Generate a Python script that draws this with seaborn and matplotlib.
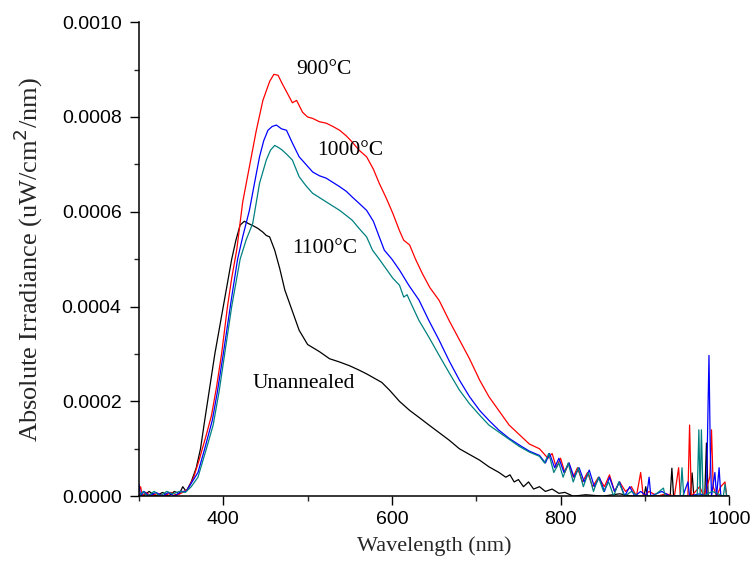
import pandas as pd
import numpy as np
import matplotlib
matplotlib.use('Agg')
import matplotlib.pyplot as plt
from matplotlib.ticker import MultipleLocator, FormatStrFormatter
import seaborn as sns


# Spectra (wavelength in nm, irradiance in uW/cm^2/nm)
wl_900 = [300, 302, 304, 308, 315, 322, 330, 338, 345, 352, 358, 365, 372, 380, 386, 392, 398, 405,
          410, 416, 423, 431, 439, 447, 455, 460, 465, 470, 476, 482, 487, 494, 500, 506, 514, 522,
          530, 538, 546, 553, 561, 570, 578, 585, 593, 601, 609, 614, 621, 628, 636, 645, 656, 668,
          680, 692, 704, 715, 727, 739, 751, 763, 775, 785, 790, 795, 800, 805, 810, 815, 820, 826,
          832, 838, 845, 852, 858, 864, 870, 877, 884, 890, 895, 898, 905, 915, 925, 935, 940, 942,
          951, 953, 955, 965, 970, 977, 979, 981, 985, 990, 995, 997, 1000]
irr_900 = [0.00001, 0.00002, 0.0, 0.000008, 0.0, 0.000006, 0.0, 0.000008, 0.000002, 0.000008,
           0.000015, 0.00004, 0.00008, 0.00013, 0.00017, 0.00023, 0.0003, 0.0004, 0.00046, 0.00052,
           0.00062, 0.000695, 0.00077, 0.000835, 0.000875, 0.00089, 0.000888, 0.00087, 0.00085,
           0.00083, 0.000835, 0.00081, 0.0008, 0.000797, 0.00079, 0.000787, 0.00078, 0.000772,
           0.00076, 0.000747, 0.00073, 0.000716, 0.00069, 0.00066, 0.00063, 0.000597, 0.00056,
           0.00054, 0.00053, 0.0005, 0.00047, 0.00044, 0.000413, 0.00037, 0.00033, 0.00029,
           0.000245, 0.00021, 0.00018, 0.00015, 0.00013, 0.00011, 0.0001, 0.00008, 0.00009, 0.00006,
           0.00008, 0.00005, 0.00007, 0.00004, 0.00006, 0.00003, 0.00005, 0.00002, 0.00004, 0.00002,
           0.000045, 0.00001, 0.00003, 0.00001, 0.00002, 0.0, 0.00005, 0.0, 0.00001, 0.0, 0.000005,
           0.0, 0.00006, 0.0, 0.0, 0.00015, 0.0, 0.00002, 0.0, 0.00004, 0.00014, 0.00002, 0.0,
           0.00002, 0.00003, 0.0, 0.0]

wl_1000 = [300, 302, 306, 312, 320, 328, 335, 342, 350, 356, 363, 370, 378, 387, 393, 400, 405, 410,
           417, 423, 431, 437, 443, 448, 453, 458, 463, 469, 475, 482, 490, 498, 506, 514, 522, 530,
           538, 546, 553, 561, 570, 578, 585, 591, 600, 609, 620, 632, 644, 656, 668, 680, 692, 704,
           715, 727, 739, 751, 763, 775, 782, 787, 793, 798, 804, 810, 816, 822, 828, 834, 840, 846,
           852, 858, 864, 870, 876, 882, 888, 895, 902, 905, 907, 920, 930, 945, 951, 953, 965, 973,
           975, 976, 977.5, 979, 983, 985, 988, 990, 1000]
irr_1000 = [0.000025, 0.0, 0.00001, 0.0, 0.000008, 0.0, 0.000008, 0.0, 0.00001, 0.00001, 0.00003,
            0.00005, 0.0001, 0.00016, 0.00022, 0.0003, 0.00036, 0.00042, 0.0005, 0.000547, 0.000603,
            0.00066, 0.000716, 0.00075, 0.000772, 0.00078, 0.000783, 0.000775, 0.000772, 0.000745,
            0.000716, 0.0007, 0.000684, 0.000676, 0.000671, 0.000662, 0.000653, 0.000643, 0.000631,
            0.000618, 0.000603, 0.00058, 0.000547, 0.000519, 0.0005, 0.000477, 0.000445, 0.000414,
            0.00037, 0.000329, 0.000285, 0.000245, 0.00021, 0.000181, 0.00016, 0.000139, 0.000122,
            0.000108, 0.000095, 0.000086, 0.00007, 0.00009, 0.00006, 0.00008, 0.00005, 0.00007,
            0.00004, 0.00006, 0.00003, 0.000055, 0.00002, 0.00004, 0.00001, 0.00004, 0.00001, 0.00003,
            0.0, 0.00002, 0.0, 0.00001, 0.0, 0.00004, 0.0, 0.00001, 0.0, 0.0, 0.00003, 0.0, 0.000005,
            0.0, 0.0002, 0.000297, 0.0001, 0.0, 0.00005, 0.0, 0.00006, 0.0, 0.0]

wl_1100 = [300, 305, 310, 318, 325, 333, 340, 348, 355, 362, 370, 380, 388, 395, 400, 405, 410, 415,
           420, 427, 435, 443, 451, 456, 461, 466, 470, 476, 482, 490, 498, 506, 514, 522, 530, 538,
           546, 553, 561, 570, 577, 585, 593, 601, 609, 614, 618, 621, 632, 644, 656, 668, 680, 692,
           704, 715, 727, 739, 751, 763, 775, 781, 786, 792, 798, 803, 809, 815, 821, 827, 833, 839,
           845, 851, 857, 863, 869, 876, 884, 892, 910, 922, 924, 942, 944, 946, 962, 964, 965.5,
           967, 969, 980, 993, 995, 997, 1000]
irr_1100 = [0.0, 0.00001, 0.0, 0.00001, 0.0, 0.00001, 0.000005, 0.00001, 0.000008, 0.00002, 0.00004,
            0.0001, 0.00015, 0.00022, 0.00028, 0.00034, 0.0004, 0.00045, 0.0005, 0.00054, 0.000576,
            0.00066, 0.000709, 0.00073, 0.00074, 0.000735, 0.00073, 0.00072, 0.000709, 0.000674,
            0.000655, 0.000639, 0.00063, 0.000621, 0.000612, 0.000603, 0.000592, 0.000582, 0.000565,
            0.000547, 0.000519, 0.0005, 0.00048, 0.00046, 0.000445, 0.00042, 0.000425, 0.000413,
            0.000371, 0.000335, 0.000297, 0.00026, 0.000224, 0.000195, 0.000171, 0.00015, 0.000135,
            0.00012, 0.000105, 0.000093, 0.000084, 0.00007, 0.00009, 0.00005, 0.00007, 0.00004,
            0.00007, 0.00003, 0.00006, 0.00002, 0.00005, 0.00001, 0.00004, 0.00001, 0.00003, 0.0,
            0.00003, 0.0, 0.00001, 0.0, 0.0, 0.000017, 0.0, 0.0, 0.00006, 0.0, 0.0, 0.00014, 0.0,
            0.00014, 0.0, 0.00001, 0.0, 0.000025, 0.0, 0.0]

wl_raw = [300, 305, 312, 320, 328, 335, 342, 348, 352, 356, 362, 368, 373, 378, 384, 390, 395, 400,
          405, 410, 415, 420, 425, 430, 436, 441, 447, 451, 455, 461, 467, 473, 480, 490, 500, 514,
          526, 538, 550, 561, 570, 579, 588, 597, 609, 621, 633, 644, 656, 668, 680, 692, 704, 715,
          727, 735, 740, 745, 750, 756, 762, 768, 775, 782, 790, 798, 805, 815, 830, 850, 870, 885,
          899, 901, 903, 930, 932, 934, 954, 956, 958, 971, 973, 975, 1000]
irr_raw = [0.000005, 0.0, 0.00001, 0.0, 0.000008, 0.0, 0.00001, 0.000005, 0.00002, 0.00001, 0.00003,
           0.00006, 0.0001, 0.00016, 0.00023, 0.0003, 0.00035, 0.0004, 0.00045, 0.0005, 0.00054,
           0.000572, 0.00058, 0.000575, 0.00057, 0.000565, 0.000557, 0.00055, 0.000547, 0.000519,
           0.00048, 0.000435, 0.0004, 0.00035, 0.00032, 0.000305, 0.00029, 0.000283, 0.000275,
           0.000266, 0.000258, 0.000249, 0.00024, 0.000224, 0.0002, 0.000181, 0.000165, 0.00015,
           0.000134, 0.000118, 0.0001, 0.000088, 0.000076, 0.000062, 0.00005, 0.00004, 0.000045,
           0.00003, 0.000035, 0.00002, 0.00003, 0.000015, 0.00002, 0.00001, 0.000015, 0.000006,
           0.000008, 0.0, 0.000003, 0.0, 0.000005, 0.0, 0.0, 0.00002, 0.0, 0.0, 0.000059, 0.0, 0.0,
           0.000049, 0.0, 0.0, 0.000112, 0.0, 0.0]

series_names = ['Unannealed', '900°C', '1000°C', '1100°C']
series_colors = ['#000000', '#ff0000', '#0000ff', '#008080']

# Label positions (nm, irradiance)
label_x = [496, 519, 550, 520]
label_y = [0.000238, 0.000901, 0.00073, 0.000523]

frames = []
for name, wl, irr in zip(series_names, [wl_raw, wl_900, wl_1000, wl_1100],
                         [irr_raw, irr_900, irr_1000, irr_1100]):
    frames.append(pd.DataFrame({'Wavelength': wl, 'Irradiance': irr, 'Sample': name}))
data = pd.concat(frames, ignore_index=True)

sns.set_style('ticks')

fig = plt.figure(figsize=(7.51, 5.69), dpi=100)
ax = fig.add_axes([0.185, 0.128, 0.786, 0.833])

sns.lineplot(data=data, x='Wavelength', y='Irradiance', hue='Sample',
             hue_order=series_names, palette=dict(zip(series_names, series_colors)),
             estimator=None, sort=False, linewidth=0.9, legend=False, ax=ax)

for name, lx, ly in zip(series_names, label_x, label_y):
    ax.text(lx, ly, name, ha='center', va='center', fontsize=15.5,
            family='Liberation Serif', color='black')

ax.set_xlim(300, 1000)
ax.set_ylim(0, 0.0010)
ax.xaxis.set_major_locator(MultipleLocator(200))
ax.xaxis.set_minor_locator(MultipleLocator(100))
ax.yaxis.set_major_locator(MultipleLocator(0.0002))
ax.yaxis.set_minor_locator(MultipleLocator(0.0001))
ax.yaxis.set_major_formatter(FormatStrFormatter('%.4f'))

ax.tick_params(which='major', direction='out', length=6.5, width=1.0, pad=4,
               labelsize=14, colors='black')
ax.tick_params(axis='y', which='major', pad=6)
ax.tick_params(which='minor', direction='out', length=3.6, width=1.0)
for lab in ax.get_xticklabels() + ax.get_yticklabels():
    lab.set_family('Liberation Sans')

sns.despine(ax=ax)
for side in ['left', 'bottom']:
    ax.spines[side].set_linewidth(1.1)
    ax.spines[side].set_color('black')

ax.set_xlabel('Wavelength (nm)', fontsize=16, family='Liberation Serif', labelpad=6)
ax.set_ylabel('Absolute Irradiance (uW/cm$^2$/nm)', fontsize=19,
              family='Liberation Serif', labelpad=12)

fig.savefig('out.png', dpi=100)
